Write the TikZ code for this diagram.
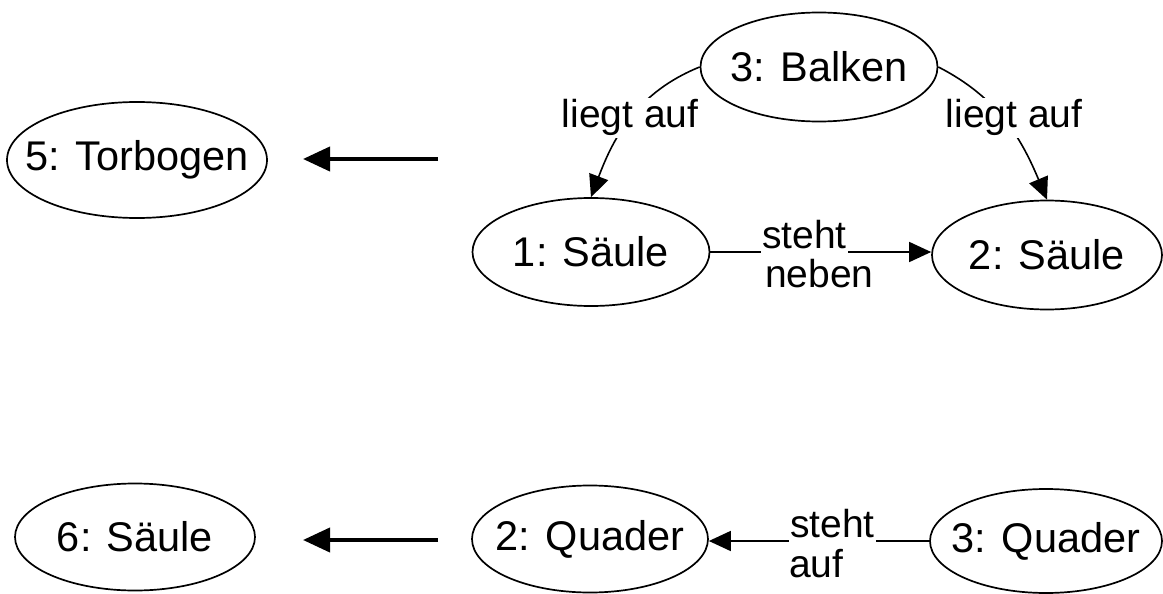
\documentclass[tikz,border=0pt]{standalone}
\usepackage{fontspec}
\setmainfont{Liberation Sans}
\usetikzlibrary{shapes.geometric,arrows.meta}
\newcommand\zbox[1]{\makebox[0pt]{#1}}
\begin{document}
\begin{tikzpicture}[x=1pt,y=-1pt,
  obj/.style={draw, ellipse, line width=1.7pt, inner sep=0pt, font=\fontsize{41.5}{46}\selectfont},
  lbl/.style={font=\fontsize{39}{39}\selectfont, inner sep=0pt},
  cover/.style={fill=white, inner xsep=1pt, inner ysep=8pt},
  conn/.style={line width=1.6pt, -{Triangle[length=22pt,width=20pt]}},
  trans/.style={line width=4pt, -{Triangle[length=27pt,width=24pt]}}]
\useasboundingbox[fill=white] (0,0) rectangle (1163,594);

% nodes
\node[obj, minimum width=260pt, minimum height=116pt] (tor) at (137,160) {\zbox{5: Torbogen}};
\node[obj, minimum width=237pt, minimum height=109pt] (bal) at (819,67) {\zbox{3: Balken}};
\node[obj, minimum width=237pt, minimum height=108pt] (s1) at (591,252) {\zbox{1: Säule}};
\node[obj, minimum width=230pt, minimum height=109pt] (s2) at (1047,255) {\zbox{2: Säule}};
\node[obj, minimum width=240pt, minimum height=107pt] (s6) at (135,537) {\zbox{6: Säule}};
\node[obj, minimum width=236pt, minimum height=107pt] (q2) at (590,539) {\zbox{2: Quader}};
\node[obj, minimum width=232pt, minimum height=104pt] (q3) at (1046,541) {\zbox{3: Quader}};

% transformation arrows
\coordinate (t1s) at (438,159);
\coordinate (t1e) at (303,159);
\coordinate (t2s) at (438,540);
\coordinate (t2e) at (303,540);
\draw[trans] (t1s) -- (t1e);
\draw[trans] (t2s) -- (t2e);

% liegt auf
\draw[conn] (bal.west) .. controls (638,92) and (614,136) .. (s1.north);
\node[lbl, fill=white, inner sep=2pt, anchor=base] (l1) at (630,128) {liegt auf};
\draw[conn] (bal.east) .. controls (999,98) and (1022,140) .. (s2.north);
\node[lbl, fill=white, inner sep=2pt, anchor=base] (l2) at (1014,128) {liegt auf};

% steht neben
\draw[conn] (s1.east) -- (s1.east -| s2.west);
\node[lbl, cover, anchor=base west] (sn1) at (761,248) {steht};
\node[lbl, anchor=base west] (sn2) at (765,287) {neben};

% steht auf
\draw[conn] (q3.west) -- (q3.west -| q2.east);
\node[lbl, cover, anchor=base west] (sa1) at (789,537) {steht};
\node[lbl, anchor=base west] (sa2) at (789,577) {auf};
\end{tikzpicture}
\end{document}
